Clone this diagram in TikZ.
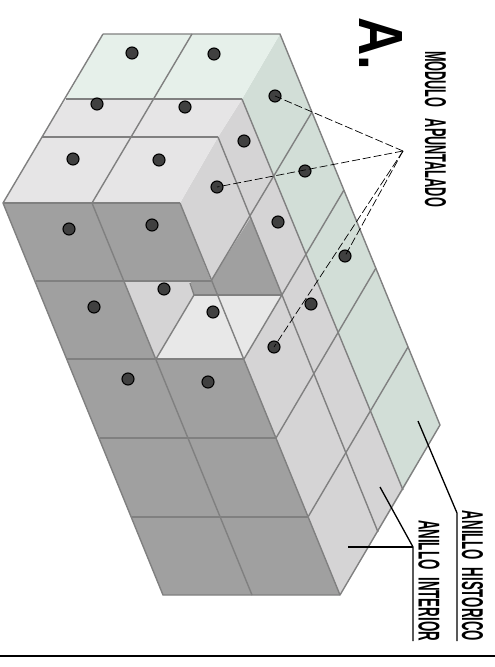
\documentclass[tikz,border=0pt]{standalone}
\usepackage{fontspec}
\setmainfont{Liberation Sans}
\setsansfont{Liberation Sans}
\newcommand{\fitlabel}[3]{\resizebox{#1pt}{#2pt}{#3}}
\tikzset{
  edge/.style={draw=black!50,line width=1.4pt,line join=round},
  dot/.style={circle,draw=black,fill=black!75,line width=1.1pt,minimum size=12pt,inner sep=0pt},
  leader/.style={draw=black,line width=.7pt,dash pattern=on 8pt off 3pt},
  callout/.style={draw=black,line width=1.3pt},
  lab/.style={rotate=-90,inner sep=0pt,font=\sffamily\bfseries}
}
\definecolor{gtop}{HTML}{E6F0EA}
\definecolor{gside}{HTML}{D2DED7}
\definecolor{ltop}{HTML}{E6E5E6}
\definecolor{lside}{HTML}{D5D4D5}
\definecolor{dark}{HTML}{A0A0A0}
\definecolor{lfloor}{HTML}{E8E8E8}
\begin{document}
\begin{tikzpicture}[x=1pt,y=-1pt]
\useasboundingbox (0,0) rectangle (495,667);
% coordinates
\coordinate (TL) at (103,34); \coordinate (TM) at (192,34); \coordinate (TR) at (280,34);
\coordinate (GL) at (66,99); \coordinate (GM) at (154,99); \coordinate (GR) at (242,99);
\coordinate (SL) at (42,137); \coordinate (SM) at (131,137); \coordinate (SR) at (218,137);
\coordinate (FL) at (3,203); \coordinate (FM) at (92,203); \coordinate (FR) at (180,203);
\coordinate (BL) at (163,595); \coordinate (BM) at (252,595); \coordinate (BR) at (340,595);
% green side
\fill[gside] (TR) -- (440,425) -- (403,490) -- (GR) -- cycle;
% ring side
\fill[lside] (GR) -- (403,490) -- (340,595) -- (244,359) -- (282,295) -- (251,217) -- (SR) -- cycle;
% notch side face
\fill[lside] (SR) -- (251,217) -- (211,281) -- (FR) -- cycle;
% tops
\fill[gtop] (TL) -- (TR) -- (GR) -- (GL) -- cycle;
\fill[ltop] (GL) -- (GR) -- (SR) -- (SL) -- cycle;
\fill[ltop] (SL) -- (SR) -- (FR) -- (FL) -- cycle;
% dark front
\fill[dark] (FL) -- (FR) -- (211,281) -- (124,281) -- (156,359) -- (244,359) -- (BR) -- (BL) -- cycle;
% notch inner
\fill[dark] (251,217) -- (282,295) -- (194,295) -- (190,281) -- (211,281) -- cycle;
\fill[lside] (124,281) -- (190,281) -- (194,295) -- (156,359) -- cycle;
\fill[lfloor] (194,295) -- (282,295) -- (244,359) -- (156,359) -- cycle;
% edges
\draw[edge] (TL) -- (TR) -- (440,425) -- (BR) -- (BL) -- (FL) -- (TL);
\draw[edge] (GL) -- (GR) (SL) -- (SR) (FL) -- (FR);
\draw[edge] (TM) -- (FM);
\draw[edge] (GR) -- (403,490);
\draw[edge] (SR) -- (378,532);
\draw[edge] (FR) -- (BR);
\draw[edge] (FM) -- (BM);
\draw[edge] (36,281) -- (211,281);
\draw[edge] (67,359) -- (244,359);
\draw[edge] (100,438) -- (276,438);
\draw[edge] (132,517) -- (308,517);
\draw[edge] (312,112) -- (211,281);
\draw[edge] (344,190) -- (244,359);
\draw[edge] (376,268) -- (276,438);
\draw[edge] (408,347) -- (308,517);
\draw[edge] (194,295) -- (282,295);
\draw[edge] (194,295) -- (156,359);
\draw[edge] (190,283) -- (194,295);
% dots
\foreach \n/\x/\y in {a/132/53,b/214/54,c/97/104,d/185/107,e/73/159,f/159/160,g/69/229,h/152/225,i/94/307,j/164/289,k/213/312,m/217/187,n/244/141,o/275/96,p/278/222,q/128/379,r/208/382,s/311/304,t/274/347,u/305/171,v/345/256}
  \node[dot] (\n) at (\x,\y) {};
% leaders
\coordinate (apex) at (403,151);
\draw[leader] (apex) -- (o.center);
\draw[leader] (apex) -- (m.center);
\draw[leader] (apex) -- (v.center);
\draw[leader] (apex) -- (t.center);
% labels
\node[lab] (title) at (380.5,43.5) {\fitlabel{53}{43}{A.}};
\node[lab] (modulo) at (435.5,129) {\fitlabel{156}{21}{MODULO\hspace{.9em}APUNTALADO}};
\node[lab] (hist) at (472.5,576) {\fitlabel{130}{21}{ANILLO\hspace{.6em}HISTORICO}};
\node[lab] (inter) at (429,580.5) {\fitlabel{121}{21}{ANILLO\hspace{.6em}INTERIOR}};
% callouts
\coordinate (h0) at (418,421); \coordinate (h1) at (457,513); \coordinate (h2) at (457,641);
\coordinate (i0) at (380,487); \coordinate (i1) at (413,547); \coordinate (i2) at (413,641); \coordinate (i3) at (348,547);
\draw[callout] (h0) -- (h1) -- (h2);
\draw[callout] (i0) -- (i1) -- (i2);
\draw[callout] (i3) -- (i1);
% bottom rule
\coordinate (r0) at (0,656); \coordinate (r1) at (495,656);
\draw[black,line width=1.2pt] (r0) -- (r1);
\end{tikzpicture}
\end{document}
